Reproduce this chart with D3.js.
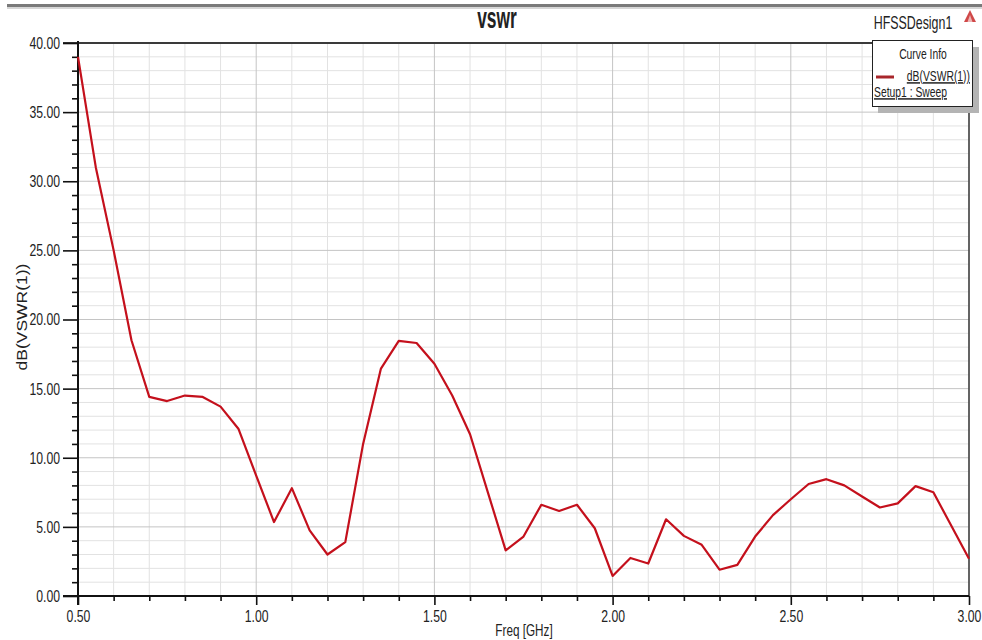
<!DOCTYPE html>
<html>
<head>
<meta charset="utf-8">
<script src="https://cdn.jsdelivr.net/npm/d3@7"></script>
<style>
  html, body { margin: 0; padding: 0; background: #fff; }
  svg { display: block; }
  text { font-family: "Liberation Sans", Arial, sans-serif; fill: #222; }
</style>
</head>
<body>
<svg id="chart" width="982" height="640"></svg>
<script>
// ---- data ----
const freqGHz = [0.50,0.55,0.60,0.65,0.70,0.75,0.80,0.85,0.90,0.95,
                 1.00,1.05,1.10,1.15,1.20,1.25,1.30,1.35,1.40,1.45,
                 1.50,1.55,1.60,1.65,1.70,1.75,1.80,1.85,1.90,1.95,
                 2.00,2.05,2.10,2.15,2.20,2.25,2.30,2.35,2.40,2.45,
                 2.50,2.55,2.60,2.65,2.70,2.75,2.80,2.85,2.90,2.95,3.00];
const dbVSWR = [39.0,31.0,25.0,18.5,14.4,14.1,14.5,14.4,13.7,12.1,
                8.7,5.35,7.8,4.75,3.0,3.9,11.0,16.45,18.45,18.3,
                16.8,14.5,11.7,7.5,3.3,4.3,6.6,6.15,6.6,4.9,
                1.45,2.75,2.35,5.55,4.35,3.7,1.9,2.25,4.3,5.85,
                7.0,8.1,8.45,8.0,7.2,6.4,6.7,7.95,7.5,5.1,2.7];
const xMajorTicks = [0.5,1.0,1.5,2.0,2.5,3.0];
const xMinorTicks = [0.6,0.7,0.8,0.9,1.1,1.2,1.3,1.4,1.6,1.7,1.8,1.9,2.1,2.2,2.3,2.4,2.6,2.7,2.8,2.9];
const yMajorTicks = [0,5,10,15,20,25,30,35,40];
const yMinorTicks = [1,2,3,4,6,7,8,9,11,12,13,14,16,17,18,19,21,22,23,24,26,27,28,29,31,32,33,34,36,37,38,39];
const titleText = "vswr";
const designText = "HFSSDesign1";
const legendTitle = "Curve Info";
const seriesName = "dB(VSWR(1))";
const setupName = "Setup1 : Sweep";
const xLabel = "Freq [GHz]";
const yLabel = "dB(VSWR(1))";

// ---- layout ----
const svg = d3.select("#chart");
const L = 78, R = 969, T = 43, B = 596;
const x = d3.scaleLinear().domain([0.5, 3.0]).range([L, R]);
const y = d3.scaleLinear().domain([0, 40]).range([B, T]);
const sx = 0.72; // horizontal squeeze to mimic the narrow font

// top window rule
svg.append("rect").attr("x", 7).attr("y", 4).attr("width", 975).attr("height", 3).attr("fill", "#7a7a7a");
svg.append("rect").attr("x", 7).attr("y", 7).attr("width", 975).attr("height", 2).attr("fill", "#d6d6d6");

// grid
const grid = svg.append("g");
grid.selectAll(".vmin").data(xMinorTicks).join("line")
  .attr("x1", d => x(d)).attr("x2", d => x(d)).attr("y1", T).attr("y2", B)
  .attr("stroke", "#e2e2e2").attr("stroke-width", 1);
grid.selectAll(".hmin").data(yMinorTicks).join("line")
  .attr("x1", L).attr("x2", R).attr("y1", d => y(d)).attr("y2", d => y(d))
  .attr("stroke", "#e2e2e2").attr("stroke-width", 1);
grid.selectAll(".vmaj").data(xMajorTicks).join("line")
  .attr("x1", d => x(d)).attr("x2", d => x(d)).attr("y1", T).attr("y2", B)
  .attr("stroke", "#c4c4c4").attr("stroke-width", 1);
grid.selectAll(".hmaj").data(yMajorTicks).join("line")
  .attr("x1", L).attr("x2", R).attr("y1", d => y(d)).attr("y2", d => y(d))
  .attr("stroke", "#c4c4c4").attr("stroke-width", 1);

// plot frame (top & right)
svg.append("line").attr("x1", 63).attr("x2", R).attr("y1", T).attr("y2", T)
  .attr("stroke", "#3a3a3a").attr("stroke-width", 2);
svg.append("line").attr("x1", R).attr("x2", R).attr("y1", T).attr("y2", B)
  .attr("stroke", "#3a3a3a").attr("stroke-width", 1.5);

// axes
const fmt = d3.format(".2f");
const gyMin = svg.append("g").attr("transform", `translate(${L},0)`)
  .call(d3.axisLeft(y).tickValues(yMinorTicks).tickSize(6).tickFormat(""));
const gy = svg.append("g").attr("transform", `translate(${L},0)`)
  .call(d3.axisLeft(y).tickValues(yMajorTicks).tickSize(15).tickPadding(3).tickFormat(fmt));
const gxMin = svg.append("g").attr("transform", `translate(0,${B})`)
  .call(d3.axisBottom(x).tickValues(xMinorTicks).tickSize(5).tickFormat(""));
const gx = svg.append("g").attr("transform", `translate(0,${B})`)
  .call(d3.axisBottom(x).tickValues(xMajorTicks).tickSize(9).tickPadding(5).tickFormat(fmt));

[gyMin, gy, gxMin, gx].forEach(g => {
  g.select(".domain").remove();
  g.selectAll(".tick line").attr("stroke", "#111").attr("stroke-width", 1.6);
});
gy.selectAll(".tick text")
  .attr("font-size", 17).attr("fill", "#222")
  .attr("x", null)
  .attr("transform", `translate(-18,0) scale(${sx},1)`)
  .attr("font-family", "'Liberation Sans', Arial, sans-serif");
gx.selectAll(".tick text")
  .attr("font-size", 17).attr("fill", "#222")
  .attr("transform", `scale(${sx},1)`)
  .attr("font-family", "'Liberation Sans', Arial, sans-serif");

// axis lines
svg.append("line").attr("x1", L).attr("x2", L).attr("y1", T - 2).attr("y2", B + 9)
  .attr("stroke", "#111").attr("stroke-width", 2);
svg.append("line").attr("x1", 63).attr("x2", R).attr("y1", B).attr("y2", B)
  .attr("stroke", "#111").attr("stroke-width", 2);

// curve
const line = d3.line().x((d, i) => x(freqGHz[i])).y(d => y(d));
svg.append("path").datum(dbVSWR)
  .attr("d", line)
  .attr("fill", "none")
  .attr("stroke", "#c4101c")
  .attr("stroke-width", 2.2)
  .attr("stroke-linejoin", "round");

// title
svg.append("text").attr("transform", `translate(497,28) scale(0.6,1)`)
  .attr("text-anchor", "middle").attr("font-size", 29).attr("font-weight", "600")
  .attr("fill", "#2a2a2a").text(titleText);
svg.append("text").attr("transform", `translate(913,29) scale(0.69,1)`)
  .attr("text-anchor", "middle").attr("font-size", 18)
  .attr("fill", "#222").text(designText);
// small red marker icon
svg.append("path")
  .attr("d", "M970,10 L976,22 L964,22 Z")
  .attr("fill", "#d04848");
svg.append("path")
  .attr("d", "M970,15 L972.5,22 L967.5,22 Z")
  .attr("fill", "#ffffff").attr("opacity", 0.6);

// legend
const lg = svg.append("g");
lg.append("rect").attr("x", 878).attr("y", 47).attr("width", 101).attr("height", 66).attr("fill", "#b4b4b4");
lg.append("rect").attr("x", 872.5).attr("y", 40.5).attr("width", 100).attr("height", 66)
  .attr("fill", "#fff").attr("stroke", "#222").attr("stroke-width", 1);
lg.append("text").attr("transform", `translate(923,59) scale(0.69,1)`)
  .attr("text-anchor", "middle").attr("font-size", 15).text(legendTitle);
lg.append("line").attr("x1", 876).attr("x2", 894).attr("y1", 77).attr("y2", 77)
  .attr("stroke", "#a8262b").attr("stroke-width", 3);
lg.append("text").attr("transform", `translate(970,81) scale(0.69,1)`)
  .attr("text-anchor", "end").attr("font-size", 15)
  .attr("text-decoration", "underline").text(seriesName);
lg.append("text").attr("transform", `translate(874,97) scale(0.69,1)`)
  .attr("text-anchor", "start").attr("font-size", 15)
  .attr("text-decoration", "underline").text(setupName);

// axis titles
svg.append("text").attr("transform", `translate(524,636) scale(0.69,1)`)
  .attr("text-anchor", "middle").attr("font-size", 17).text(xLabel);
svg.append("text").attr("transform", `translate(27,317) rotate(-90) scale(1.25,1)`)
  .attr("text-anchor", "middle").attr("font-size", 14).text(yLabel);
</script>
</body>
</html>
